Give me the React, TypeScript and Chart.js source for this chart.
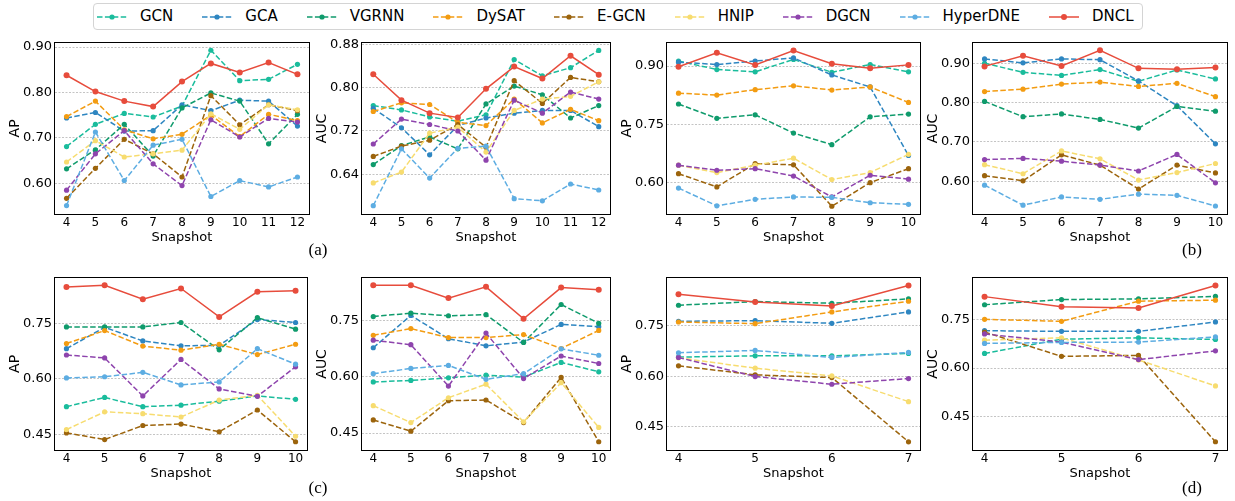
import React, { useEffect, useRef } from 'react';
import { Chart, registerables } from 'chart.js';

Chart.register(...registerables);

// ---------- data ----------
const methods = ['GCN', 'GCA', 'VGRNN', 'DySAT', 'E-GCN', 'HNIP', 'DGCN', 'HyperDNE', 'DNCL'];
const colors = ['#1ABC9C', '#2E86C1', '#0F9B6C', '#F39C12', '#9C640C', '#F7DC6F', '#8E44AD', '#5DADE2', '#E74C3C'];

const snapsA = [4, 5, 6, 7, 8, 9, 10, 11, 12];
const snapsB = [4, 5, 6, 7, 8, 9, 10];
const snapsC = [4, 5, 6, 7, 8, 9, 10];
const snapsD = [4, 5, 6, 7];

// rows follow `methods` order
const apA = [
  [0.681, 0.730, 0.754, 0.746, 0.770, 0.893, 0.826, 0.829, 0.862],
  [0.744, 0.756, 0.715, 0.716, 0.773, 0.760, 0.783, 0.781, 0.726],
  [0.632, 0.674, 0.730, 0.660, 0.766, 0.799, 0.781, 0.687, 0.752],
  [0.747, 0.781, 0.718, 0.698, 0.708, 0.750, 0.703, 0.752, 0.738],
  [0.567, 0.633, 0.697, 0.665, 0.614, 0.793, 0.729, 0.773, 0.760],
  [0.647, 0.694, 0.658, 0.665, 0.673, 0.753, 0.719, 0.773, 0.762],
  [0.585, 0.665, 0.716, 0.643, 0.595, 0.740, 0.702, 0.743, 0.735],
  [0.551, 0.713, 0.606, 0.684, 0.697, 0.571, 0.606, 0.592, 0.614],
  [0.838, 0.802, 0.781, 0.769, 0.824, 0.864, 0.844, 0.866, 0.840],
];
const aucA = [
  [0.767, 0.759, 0.746, 0.738, 0.750, 0.852, 0.822, 0.837, 0.869],
  [0.762, 0.726, 0.676, 0.730, 0.744, 0.753, 0.758, 0.758, 0.728],
  [0.658, 0.693, 0.709, 0.687, 0.770, 0.803, 0.787, 0.744, 0.767],
  [0.756, 0.772, 0.769, 0.736, 0.730, 0.779, 0.735, 0.760, 0.739],
  [0.673, 0.692, 0.703, 0.732, 0.690, 0.813, 0.771, 0.819, 0.811],
  [0.624, 0.644, 0.716, 0.727, 0.681, 0.758, 0.779, 0.784, 0.811],
  [0.696, 0.742, 0.732, 0.720, 0.666, 0.777, 0.753, 0.792, 0.779],
  [0.582, 0.687, 0.633, 0.688, 0.692, 0.595, 0.591, 0.622, 0.611],
  [0.825, 0.777, 0.753, 0.745, 0.798, 0.839, 0.817, 0.859, 0.824],
];
const apB = [
  [0.913, 0.891, 0.885, 0.917, 0.884, 0.904, 0.885],
  [0.910, 0.904, 0.913, 0.921, 0.877, 0.846, 0.669],
  [0.802, 0.765, 0.774, 0.727, 0.697, 0.769, 0.776],
  [0.830, 0.825, 0.839, 0.849, 0.838, 0.846, 0.806],
  [0.622, 0.588, 0.648, 0.645, 0.538, 0.599, 0.635],
  [0.644, 0.625, 0.644, 0.662, 0.607, 0.625, 0.672],
  [0.644, 0.631, 0.635, 0.616, 0.562, 0.618, 0.608],
  [0.585, 0.539, 0.556, 0.562, 0.561, 0.547, 0.543],
  [0.898, 0.934, 0.903, 0.940, 0.906, 0.894, 0.903],
];
const aucB = [
  [0.900, 0.877, 0.869, 0.884, 0.854, 0.883, 0.860],
  [0.911, 0.901, 0.911, 0.909, 0.855, 0.792, 0.695],
  [0.803, 0.764, 0.771, 0.757, 0.735, 0.790, 0.778],
  [0.828, 0.834, 0.847, 0.852, 0.841, 0.849, 0.815],
  [0.614, 0.601, 0.667, 0.641, 0.580, 0.641, 0.621],
  [0.642, 0.619, 0.677, 0.657, 0.603, 0.622, 0.645],
  [0.655, 0.658, 0.651, 0.641, 0.626, 0.668, 0.596],
  [0.590, 0.539, 0.560, 0.554, 0.567, 0.564, 0.537],
  [0.892, 0.919, 0.893, 0.933, 0.887, 0.885, 0.889],
];
const apC = [
  [0.525, 0.550, 0.525, 0.529, 0.540, 0.554, 0.545],
  [0.682, 0.740, 0.703, 0.690, 0.691, 0.761, 0.753],
  [0.741, 0.741, 0.741, 0.753, 0.679, 0.766, 0.735],
  [0.696, 0.731, 0.689, 0.678, 0.694, 0.666, 0.694],
  [0.454, 0.436, 0.474, 0.478, 0.457, 0.516, 0.430],
  [0.463, 0.511, 0.506, 0.497, 0.543, 0.556, 0.445],
  [0.665, 0.657, 0.554, 0.653, 0.573, 0.553, 0.633],
  [0.603, 0.606, 0.618, 0.584, 0.592, 0.682, 0.640],
  [0.849, 0.854, 0.816, 0.845, 0.768, 0.836, 0.839],
];
const aucC = [
  [0.586, 0.590, 0.597, 0.604, 0.599, 0.638, 0.613],
  [0.677, 0.763, 0.701, 0.682, 0.692, 0.739, 0.733],
  [0.760, 0.769, 0.762, 0.765, 0.691, 0.792, 0.742],
  [0.710, 0.728, 0.704, 0.704, 0.712, 0.675, 0.723],
  [0.485, 0.455, 0.536, 0.538, 0.478, 0.598, 0.427],
  [0.523, 0.478, 0.544, 0.580, 0.480, 0.584, 0.465],
  [0.697, 0.685, 0.575, 0.716, 0.595, 0.655, 0.635],
  [0.608, 0.622, 0.630, 0.593, 0.608, 0.674, 0.657],
  [0.843, 0.843, 0.809, 0.839, 0.754, 0.837, 0.831],
];
const apD = [
  [0.657, 0.661, 0.661, 0.668],
  [0.764, 0.766, 0.758, 0.792],
  [0.812, 0.823, 0.818, 0.831],
  [0.762, 0.757, 0.792, 0.824],
  [0.631, 0.604, 0.596, 0.404],
  [0.655, 0.624, 0.601, 0.524],
  [0.656, 0.599, 0.576, 0.593],
  [0.670, 0.677, 0.656, 0.671],
  [0.845, 0.822, 0.810, 0.871],
];
const aucD = [
  [0.645, 0.689, 0.693, 0.688],
  [0.715, 0.713, 0.713, 0.742],
  [0.795, 0.811, 0.813, 0.821],
  [0.750, 0.744, 0.806, 0.809],
  [0.711, 0.636, 0.639, 0.373],
  [0.686, 0.693, 0.625, 0.545],
  [0.705, 0.680, 0.626, 0.653],
  [0.676, 0.679, 0.680, 0.696],
  [0.820, 0.789, 0.785, 0.854],
];

// axis tick labels and limits
const ticksApA = [0.6, 0.7, 0.8, 0.9];
const ticksAucA = [0.64, 0.72, 0.8, 0.88];
const ticksApB = [0.6, 0.75, 0.9];
const ticksAucB = [0.6, 0.7, 0.8, 0.9];
const ticksC = [0.45, 0.6, 0.75];
const ticksD = [0.45, 0.6, 0.75];

// ---------- layout ----------
const L = 52; // y-axis box width
const T = 10; // top pad
const R = 8; // right pad
const B = 40; // x-axis box height

type Panel = {
  left: number; top: number; w: number; h: number;
  snaps: number[]; data: number[][]; label: string;
  ymin: number; ymax: number; yticks: number[];
};

const panels: Panel[] = [
  { left: 55, top: 42, w: 254, h: 172, snaps: snapsA, data: apA, label: 'AP', ymin: 0.5325, ymax: 0.9094, yticks: ticksApA },
  { left: 362, top: 42, w: 248, h: 172, snaps: snapsA, data: aucA, label: 'AUC', ymin: 0.5666, ymax: 0.883, yticks: ticksAucA },
  { left: 667, top: 42, w: 253, h: 172, snaps: snapsB, data: apB, label: 'AP', ymin: 0.518, ymax: 0.96, yticks: ticksApB },
  { left: 973, top: 42, w: 254, h: 172, snaps: snapsB, data: aucB, label: 'AUC', ymin: 0.5166, ymax: 0.952, yticks: ticksAucB },
  { left: 55, top: 277, w: 252, h: 173, snaps: snapsC, data: apC, label: 'AP', ymin: 0.4077, ymax: 0.874, yticks: ticksC },
  { left: 362, top: 277, w: 248, h: 173, snaps: snapsC, data: aucC, label: 'AUC', ymin: 0.405, ymax: 0.863, yticks: ticksC },
  { left: 667, top: 277, w: 253, h: 173, snaps: snapsD, data: apD, label: 'AP', ymin: 0.3795, ymax: 0.894, yticks: ticksD },
  { left: 973, top: 277, w: 254, h: 173, snaps: snapsD, data: aucD, label: 'AUC', ymin: 0.3476, ymax: 0.878, yticks: ticksD },
];

const captions = [
  { text: '(a)', x: 318, y: 250 },
  { text: '(b)', x: 1192, y: 250 },
  { text: '(c)', x: 318, y: 488 },
  { text: '(d)', x: 1192, y: 488 },
];

const FONT = "'DejaVu Sans', sans-serif";

const framePlugin = {
  id: 'frame',
  afterDraw(chart: any) {
    const { ctx, chartArea } = chart;
    const l = Math.round(chartArea.left);
    const t = Math.round(chartArea.top);
    const r = Math.round(chartArea.right);
    const b = Math.round(chartArea.bottom);
    ctx.save();
    ctx.strokeStyle = '#000';
    ctx.lineWidth = 1;
    ctx.strokeRect(l - 0.5, t - 0.5, r - l + 1, b - t + 1);
    ctx.restore();
  },
};

function PanelChart({ p }: { p: Panel }) {
  const ref = useRef<HTMLCanvasElement | null>(null);
  useEffect(() => {
    if (!ref.current) return;
    const first = p.snaps[0];
    const last = p.snaps[p.snaps.length - 1];
    const margin = (last - first) * 0.05;
    const n = methods.length;
    const datasets = methods.map((m, i) => {
      const isOurs = i === n - 1;
      return {
        label: m,
        data: p.snaps.map((s, j) => ({ x: s, y: p.data[i][j] })),
        borderColor: colors[i],
        backgroundColor: colors[i],
        pointBackgroundColor: colors[i],
        pointBorderWidth: 0,
        pointRadius: isOurs ? 3 : 2.6,
        borderWidth: 1.5,
        borderDash: isOurs ? [] : [5.5, 2.4],
        tension: 0,
        fill: false,
        order: n - i,
      };
    });
    const chart = new Chart(ref.current, {
      type: 'line',
      data: { datasets },
      plugins: [framePlugin],
      options: {
        responsive: false,
        animation: false,
        events: [],
        layout: { padding: { top: T, right: R, left: 0, bottom: 0 }, autoPadding: false },
        plugins: { legend: { display: false }, tooltip: { enabled: false } },
        scales: {
          x: {
            type: 'linear',
            min: first - margin,
            max: last + margin,
            afterBuildTicks: (s: any) => { s.ticks = p.snaps.map((v) => ({ value: v })); },
            afterFit: (s: any) => { s.height = B; },
            grid: { display: false, drawTicks: false },
            border: { display: false },
            ticks: {
              font: { size: 12, family: FONT }, color: '#000', padding: 2,
              maxRotation: 0, autoSkip: false,
              callback: (v: any) => String(v),
            },
            title: {
              display: true, text: 'Snapshot', color: '#000',
              font: { size: 13, family: FONT }, padding: { top: 0, bottom: 8.7 },
            },
          },
          y: {
            type: 'linear',
            min: p.ymin,
            max: p.ymax,
            afterBuildTicks: (s: any) => { s.ticks = p.yticks.map((v) => ({ value: v })); },
            afterFit: (s: any) => { s.width = L; },
            grid: { color: '#bdbdbd', lineWidth: 0.9, drawTicks: false },
            border: { display: false, dash: [2, 1.5] },
            ticks: {
              font: { size: 13, family: FONT }, color: '#000', padding: 3,
              callback: (v: any) => Number(v).toFixed(2),
            },
            title: {
              display: true, text: p.label, color: '#000',
              font: { size: 14, family: FONT }, padding: { top: 3.6, bottom: 0 },
            },
          },
        },
      } as any,
    });
    return () => chart.destroy();
  }, [p]);
  const cw = p.w + L + R;
  const ch = p.h + T + B;
  return (
    <canvas
      ref={ref}
      width={cw}
      height={ch}
      style={{ position: 'absolute', left: p.left - L, top: p.top - T, width: cw, height: ch }}
    />
  );
}

function Legend() {
  return (
    <div
      style={{
        position: 'absolute', left: 93, top: 3, width: 1050, height: 27,
        boxSizing: 'border-box', border: '1px solid #d4d4d4', borderRadius: 4,
        display: 'flex', alignItems: 'center', paddingLeft: 3,
        fontFamily: FONT, fontSize: 15, color: '#000', background: '#fff',
      }}
    >
      {methods.map((m, i) => {
        const ours = i === methods.length - 1;
        return (
          <div key={m} style={{ display: 'flex', alignItems: 'center', marginRight: 29 }}>
            <svg width={30} height={10} style={{ display: 'block' }}>
              <line x1={0} y1={5} x2={30} y2={5} stroke={colors[i]} strokeWidth={1.5}
                strokeDasharray={ours ? undefined : '5.5 2.4'} />
              <circle cx={15} cy={5} r={ours ? 3 : 2.6} fill={colors[i]} />
            </svg>
            <span style={{ marginLeft: 13, lineHeight: '17px', whiteSpace: 'nowrap' }}>{m}</span>
          </div>
        );
      })}
    </div>
  );
}

export default function App() {
  return (
    <div style={{ position: 'absolute', left: 0, top: 0, width: 1235, height: 501, background: '#fff', overflow: 'hidden' }}>
      <Legend />
      {panels.map((p, i) => <PanelChart key={i} p={p} />)}
      {captions.map((c) => (
        <div key={c.text} style={{
          position: 'absolute', left: c.x, top: c.y, transform: 'translate(-50%, -50%)',
          fontFamily: "'Liberation Serif', 'Times New Roman', serif", fontSize: 17, color: '#000', whiteSpace: 'nowrap',
        }}>{c.text}</div>
      ))}
    </div>
  );
}
